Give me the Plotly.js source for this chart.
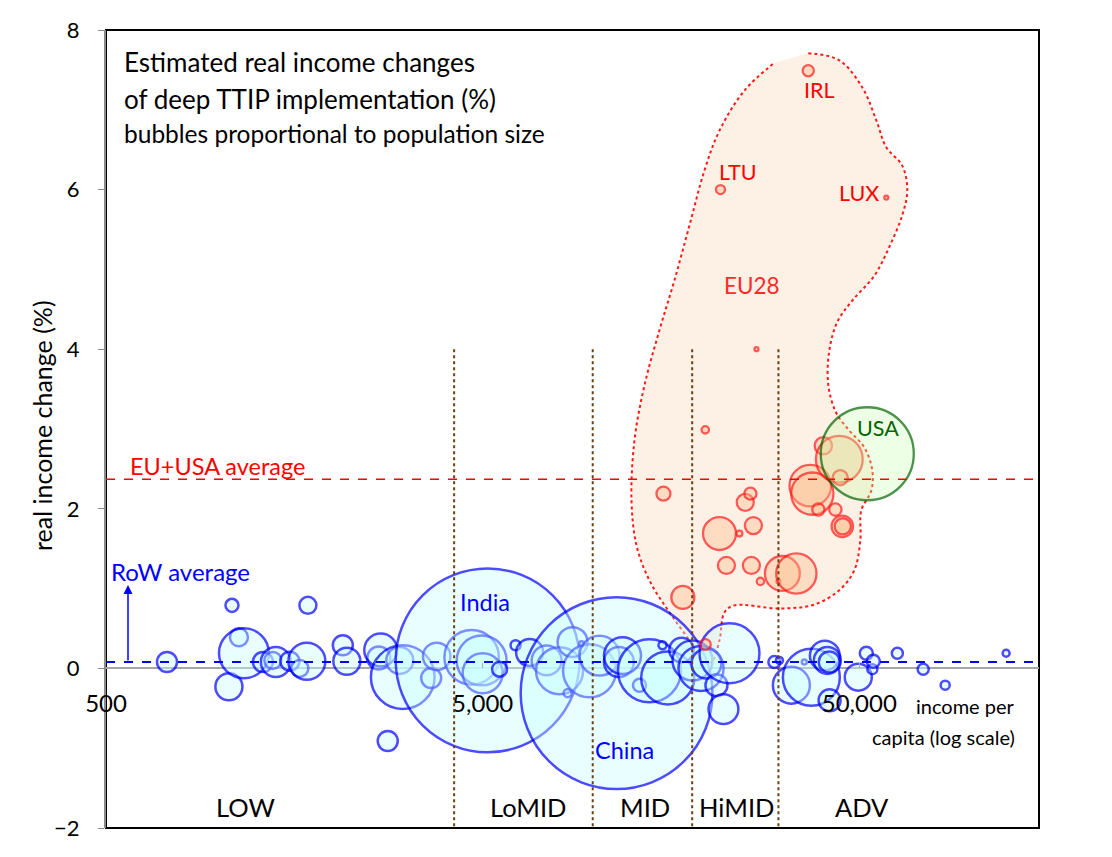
<!DOCTYPE html>
<html>
<head>
<meta charset="utf-8">
<script src="https://cdn.plot.ly/plotly-3.0.1.min.js"></script>
<style>
  body { margin: 0; background: #fff; }
  #chart { width: 1112px; height: 857px; outline: 2px solid #d4d4d4; outline-offset: -2px; }
</style>
</head>
<body>
<div id="chart"></div>
<script>
// rest of world: income per capita, real income change (%), population (mn)
const rowIncome = [726, 1060, 1080, 1127, 1162, 1305, 1387, 1412, 1538, 1635, 1707, 1718, 2127, 2180,
  2650, 2681, 2799, 3012, 3068, 3650, 3776, 4675, 4970, 5000, 5155, 5546, 6115, 6664, 7392, 8002,
  8404, 8664, 9153, 9611, 10216, 11337, 11500, 11757, 13045, 13865, 15015, 15500, 16862, 18032,
  19000, 19640, 20880, 21795, 22610, 29750, 30690, 33010, 35730, 37300, 40500, 41130, 41620, 41700,
  49690, 52190, 54150, 54470, 63100, 73900, 84530, 122700];
const rowChange = [0.08, -0.23, 0.79, 0.39, 0.19, 0.08, 0.10, 0.08, 0.09, 0.0, 0.09, 0.79, 0.29, 0.09,
  0.13, 0.23, -0.91, 0.10, -0.11, -0.12, 0.15, 0.14, 0.10, -0.06, 0.10, -0.01, 0.29, 0.20, 0.10, -0.03,
  -0.31, 0.33, 0.31, -0.03, 0.16, -0.31, 0.08, 0.16, -0.21, -0.03, 0.29, -0.12, 0.23, 0.10,
  0.0, 0.06, -0.21, -0.51, 0.19, 0.08, 0.10, -0.21, 0.08, -0.11, 0.16, 0.10, 0.08, -0.40,
  -0.11, 0.19, -0.01, 0.09, 0.19, -0.01, -0.21, 0.19];
const rowPop = [14.8, 27, 6.3, 12, 92, 14.8, 10.7, 33, 13.4, 10.7, 50.6, 10.7, 14.8, 27,
  19.6, 40, 14.8, 27, 150, 14.8, 28, 110, 92, 59, 1250, 8.3, 3.7, 27, 33, 82,
  2.4, 33, 0.9, 104, 59, 1360, 33, 50.6, 6.3, 147, 2.4, 104, 22, 59,
  75, 33, 17.9, 33, 133, 5.3, 1.8, 50.6, 0.9, 120, 33, 27, 16.3, 17.9,
  27, 6.3, 3.7, 6.3, 4.5, 4.5, 3.0, 1.8];

// EU28 members
const euIncome = [15100, 17000, 19500, 19520, 21270, 21400, 22190, 24030, 24900, 25700, 25850, 26170,
  26670, 27320, 30500, 31240, 34030, 36600, 37060, 37520, 38930, 40130, 43200, 44250, 44500, 45070,
  45200, 58970];
const euChange = [2.19, 0.89, 2.99, 0.30, 1.69, 6.0, 1.29, 1.69, 2.08, 2.19, 1.29, 1.79,
  4.0, 1.09, 1.09, 1.19, 1.19, 7.49, 2.29, 2.19, 1.99, 2.79, 1.99, 2.62, 2.39, 1.78,
  1.78, 5.9];
const euPop = [7.2, 19.6, 2.0, 4.2, 40, 3.0, 10.7, 1.3, 10.7, 5.4, 10.7, 10.7,
  0.45, 2.0, 0.6, 45, 60, 4.6, 64, 66, 5.5, 11, 5.6, 81, 8.5, 17,
  9.7, 0.55];

const usaIncome = [52500];
const usaChange = [2.69];
const usaPop = [320];

// averages
const euUsaAverage = 2.37;
const rowAverage = 0.08;

// income group thresholds and names
const groupBounds = [4200, 9800, 18000, 30500];
const groupNames = ['LOW', 'LoMID', 'MID', 'HiMID', 'ADV'];

// outline of the EU28 cloud
const blobIncome = [36600, 44250, 50930, 55470, 58970, 65020, 67060, 65020, 60050, 54800, 47900, 43700,
  41620, 41380, 43450, 47050, 51560, 54150, 53810, 50610, 50310, 48500, 44250, 37980, 30690, 23300,
  21920, 21270, 20250, 19170, 17700, 15670, 13870, 12810, 12420, 12650, 13450, 14740, 16140, 17700,
  19400, 21270, 24770, 29750];
const blobChange = [7.71, 7.62, 7.28, 6.87, 6.53, 6.30, 5.99, 5.68, 5.28, 4.92, 4.61, 4.34,
  3.98, 3.55, 3.20, 2.98, 2.77, 2.48, 2.23, 1.98, 1.60, 1.23, 0.98, 0.80, 0.75, 0.79,
  0.70, 0.35, 0.08, 0.10, 0.35, 0.70, 1.10, 1.54, 2.11, 2.86, 3.55, 4.24, 4.86, 5.55,
  6.24, 6.74, 7.24, 7.59];

const xTickVals = [500, 5000, 50000];
const xTickText = ['500', '5,000', '50,000'];
const yTickVals = [-2, 0, 2, 4, 6, 8];

const FONT = 'Lato, "Open Sans", sans-serif';
const BUBBLE_K = 2.6; // px radius per sqrt(million people)
const sizeref = 1 / (2 * BUBBLE_K * BUBBLE_K);

const bubble = (x, y, s, fill, line, lw) => ({
  x, y, type: 'scatter', mode: 'markers', hoverinfo: 'skip',
  marker: { size: s, sizemode: 'area', sizeref, sizemin: 2, color: fill, line: { color: line, width: lw } }
});

const traces = [
  {
    x: blobIncome, y: blobChange, type: 'scatter', mode: 'lines', fill: 'toself',
    fillcolor: 'rgba(252,226,204,0.5)', hoverinfo: 'skip',
    line: { color: '#ff1a1a', width: 2, dash: 'dot', shape: 'spline', smoothing: 1 }
  },
  bubble(rowIncome, rowChange, rowPop, 'rgba(200,255,255,0.55)', '#0000ff', 2.5),
  bubble(euIncome, euChange, euPop, 'rgba(255,190,140,0.55)', '#ff1a1a', 2.3),
  bubble(usaIncome, usaChange, usaPop, 'rgba(200,255,170,0.45)', '#006600', 2.3)
];

// plot area in px, used to place text in paper coordinates
const L = 106, R = 1039, T = 30, B = 828;
const px = v => (v - L) / (R - L);
const py = v => (B - v) / (B - T);

const txt = (text, x, y, size, color, extra = {}) => Object.assign({
  text, x: px(x), y: py(y), xref: 'paper', yref: 'paper', showarrow: false,
  font: { family: FONT, size, color }, xanchor: 'center', yanchor: 'middle'
}, extra);

const groupX = [245, 528, 645, 736, 862];

const annotations = [
  txt('Estimated real income changes', 122, 62, 26, '#000', { xanchor: 'left' }),
  txt('of deep TTIP implementation (%)', 122, 99, 26, '#000', { xanchor: 'left' }),
  txt('bubbles proportional to population size', 122, 133, 24.5, '#000', { xanchor: 'left' }),
  ...groupNames.map((g, i) => txt(g, groupX[i], 807, 25.5, '#000')),
  txt('IRL', 819, 90, 21.5, '#ff0000'),
  txt('LTU', 738, 172, 21.5, '#ff0000'),
  txt('LUX', 859, 193, 21.5, '#ff0000'),
  txt('EU28', 752, 285, 22.5, '#ff2a2a'),
  txt('USA', 878, 428, 21.5, '#006600'),
  txt('India', 485, 602, 23.5, '#0000ff'),
  txt('China', 624, 750, 23.5, '#0000ff'),
  txt('EU+USA average', 128, 466, 23.5, '#ff0000', { xanchor: 'left' }),
  txt('RoW average', 109, 571, 24, '#0000ff', { xanchor: 'left' }),
  txt('income per', 1017, 706, 20, '#000', { xanchor: 'right' }),
  txt('capita (log scale)', 1017, 737, 20, '#000', { xanchor: 'right' }),
  txt('real income change (%)', 42, 426, 25, '#000', { textangle: -90 }),
  {
    x: px(128), y: py(585), xref: 'paper', yref: 'paper', text: '', showarrow: true,
    ax: 0, ay: 77, arrowhead: 2, arrowsize: 1.2, arrowwidth: 1.5, arrowcolor: '#0000ff'
  }
];

const shapes = [
  { type: 'rect', xref: 'paper', yref: 'paper', x0: 0, x1: 1, y0: 0, y1: 1,
    line: { color: '#000', width: 2 }, layer: 'below' },
  ...groupBounds.map(b => ({
    type: 'line', xref: 'x', yref: 'y', x0: b, x1: b, y0: 4, y1: -2,
    line: { color: '#6e3f12', width: 2, dash: 'dot' }
  })),
  { type: 'line', xref: 'paper', yref: 'y', x0: 0, x1: 1, y0: euUsaAverage, y1: euUsaAverage,
    line: { color: '#ff0000', width: 1.5, dash: 'dash' } },
  { type: 'line', xref: 'paper', yref: 'y', x0: 0, x1: 1, y0: rowAverage, y1: rowAverage,
    line: { color: '#0000ff', width: 2, dash: 'dash' } }
];

const layout = {
  width: 1112,
  height: 857,
  margin: { l: L, r: 1112 - R, t: T, b: 857 - B },
  paper_bgcolor: '#fff',
  plot_bgcolor: '#fff',
  showlegend: false,
  hovermode: false,
  font: { family: FONT, color: '#000' },
  xaxis: {
    type: 'log',
    range: [Math.log10(500), Math.log10(150000)],
    anchor: 'free',
    position: 0.2,
    showgrid: false,
    zeroline: false,
    showline: false,
    tickvals: xTickVals,
    ticktext: xTickText,
    ticks: 'inside',
    ticklen: 5,
    tickcolor: '#aaa',
    ticklabelstandoff: 19,
    tickfont: { size: 24, color: '#000' }
  },
  yaxis: {
    range: [-2, 8],
    tickvals: yTickVals,
    showgrid: false,
    zeroline: true,
    zerolinecolor: '#a6a6a6',
    zerolinewidth: 2,
    showline: true,
    linecolor: '#8c8c8c',
    linewidth: 2,
    ticks: 'outside',
    ticklen: 6,
    tickcolor: '#8c8c8c',
    ticklabelstandoff: 14,
    tickfont: { size: 22, color: '#000' }
  },
  shapes,
  annotations
};

Plotly.newPlot('chart', traces, layout, { staticPlot: true, displayModeBar: false });
</script>
</body>
</html>
